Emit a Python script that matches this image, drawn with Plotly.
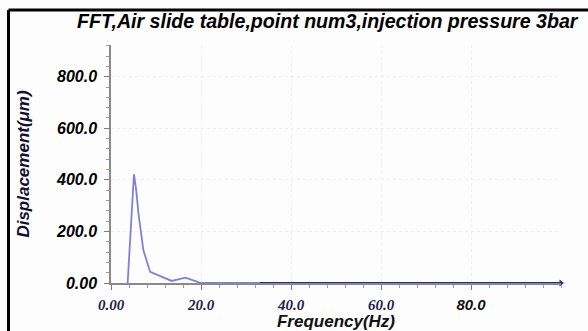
import plotly.graph_objects as go

# ---- data ----
freq_hz = [3.7, 5.1, 5.6, 6.1, 7.2, 8.7, 13.5, 16.5, 19.1, 19.8, 33.0, 100.0]
disp_um = [0, 422, 360, 270, 127, 43, 8, 21, 5, 0, 0, 0]
split_hz = 33.0

x_tick_vals = [0, 20, 40, 60, 80]
x_tick_text = ["0.00", "20.0", "40.0", "60.0", "80.0"]
y_tick_vals = [0, 200, 400, 600, 800]
y_tick_text = ["0.00", "200.0", "400.0", "600.0", "800.0"]

title_text = "FFT,Air slide table,point num3,injection pressure 3bar"
x_title = "Frequency(Hz)"
y_title = "Displacement(μm)"

# ---- layout geometry (pixels) ----
W, H = 588, 331
L, R, T, B = 111, 27, 45, 48
pw, ph = W - L - R, H - T - B

def px_x(px):
    return (px - L) / pw

def px_y(py):
    return (H - B - py) / ph

seg1_x = [f for f in freq_hz if f <= split_hz]
seg1_y = [d for f, d in zip(freq_hz, disp_um) if f <= split_hz]
seg2_x = [f for f in freq_hz if f >= split_hz]
seg2_y = [d for f, d in zip(freq_hz, disp_um) if f >= split_hz]

fig = go.Figure()
fig.add_trace(go.Scatter(x=seg1_x, y=seg1_y, mode="lines", cliponaxis=False,
                         line=dict(color="#8080da", width=1.8), hoverinfo="skip"))
fig.add_trace(go.Scatter(x=seg2_x, y=seg2_y, mode="lines", cliponaxis=False,
                         line=dict(color="#2a2a86", width=2), hoverinfo="skip"))
fig.add_trace(go.Scatter(x=[seg2_x[-1]], y=[seg2_y[-1]], mode="markers", cliponaxis=False,
                         marker=dict(symbol="triangle-right", size=6, color="#2a2a86"),
                         hoverinfo="skip"))

x_ticks_fmt = []
for t in x_tick_text:
    if t == "80.0":
        x_ticks_fmt.append('<span style="font-family:Liberation Sans;fill:#111111">' + t + '</span>')
    else:
        x_ticks_fmt.append(t)

fig.update_layout(
    width=W, height=H,
    margin=dict(l=L, r=R, t=T, b=B, pad=0, autoexpand=False),
    paper_bgcolor="#fdfdfd", plot_bgcolor="#fdfdfd",
    showlegend=False,
    title=dict(text=title_text, x=(77 / W), y=1 - 21 / H, xanchor="left", yanchor="middle",
               xref="container", yref="container", automargin=False,
               font=dict(family="Liberation Sans", size=19.6, color="#000000",
                         weight="bold", style="italic")),
    xaxis=dict(
        range=[0, 100], showgrid=True, gridcolor="#eeeeee", griddash="dot", gridwidth=1,
        tickvals=x_tick_vals, ticktext=x_ticks_fmt, automargin=False,
        tickfont=dict(family="Liberation Serif", size=15, color="#1c1c4a",
                      weight="bold", style="italic"),
        ticks="outside", ticklen=5, tickcolor="#7a7a7a", tickwidth=1,
        ticklabelstandoff=2,
        minor=dict(dtick=4, ticks="outside", ticklen=3, tickcolor="#9a9a9a", showgrid=False),
        showline=True, linecolor="#8a8a8a", linewidth=1.5,
        zeroline=False,
        title=dict(text=x_title, standoff=13,
                   font=dict(family="Liberation Sans", size=17, color="#111111",
                             weight="bold", style="italic")),
    ),
    yaxis=dict(
        range=[0, 923], showgrid=True, gridcolor="#eeeeee", griddash="dot", gridwidth=1,
        tickvals=y_tick_vals, ticktext=y_tick_text, automargin=False,
        tickfont=dict(family="Liberation Sans", size=16, color="#000000",
                      weight="bold", style="italic"),
        ticks="outside", ticklen=5, tickcolor="#7a7a7a", tickwidth=1,
        ticklabelstandoff=4,
        minor=dict(dtick=40, ticks="outside", ticklen=3, tickcolor="#9a9a9a", showgrid=False),
        showline=True, linecolor="#8a8a8a", linewidth=1.5,
        zeroline=False,
        title=dict(text=y_title, standoff=22,
                   font=dict(family="Liberation Sans", size=17, color="#101030",
                             weight="bold", style="italic")),
    ),
    shapes=[
        dict(type="line", xref="paper", yref="paper",
             x0=px_x(8.5), x1=px_x(W + 5), y0=px_y(10), y1=px_y(10),
             line=dict(color="#000000", width=3)),
        dict(type="line", xref="paper", yref="paper",
             x0=px_x(8.5), x1=px_x(8.5), y0=px_y(10), y1=px_y(H + 5),
             line=dict(color="#000000", width=3)),
    ],
)

fig.write_html("out.html")
